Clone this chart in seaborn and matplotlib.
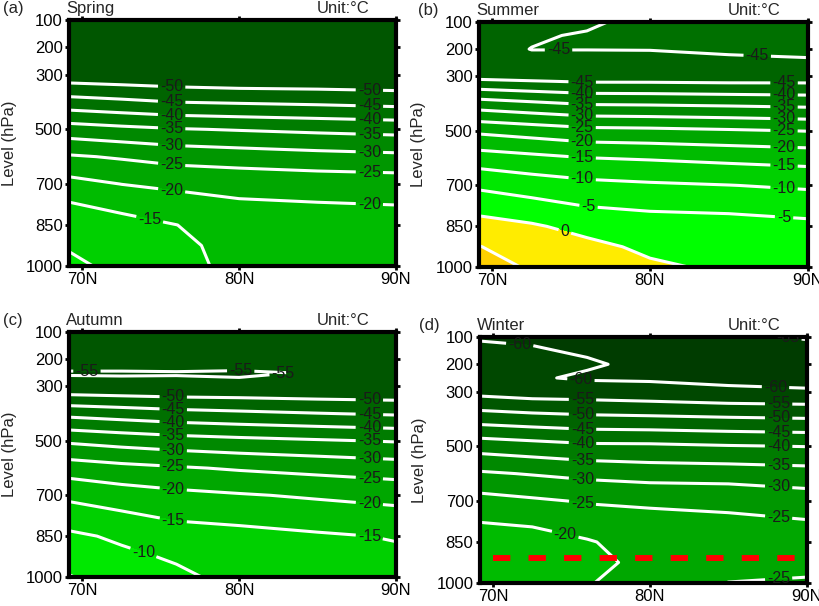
import numpy as np
import matplotlib
matplotlib.use("Agg")
import matplotlib.pyplot as plt
import seaborn as sns

# pressure levels (hPa) and latitudes of the temperature grid
levels_hpa = [100, 150, 200, 250, 300, 400, 500, 600, 700, 850, 925, 1000]
lats = [69, 72.5, 76, 80, 85, 90]

# seasonal mean air temperature (deg C), one row per level, one column per latitude
spring_t = [
    [-52.5, -52.8, -53.0, -53.0, -52.8, -52.5],
    [-53.0, -53.2, -53.3, -53.3, -53.2, -53.0],
    [-53.2, -53.4, -53.5, -53.5, -53.5, -53.3],
    [-53.3, -53.6, -53.8, -53.8, -53.8, -53.6],
    [-53.0, -53.5, -54.0, -54.5, -54.5, -54.6],
    [-43.0, -44.0, -45.05, -45.5, -46.0, -46.7],
    [-32.7, -33.8, -34.7, -35.3, -36.0, -36.6],
    [-24.4, -25.5, -26.8, -27.5, -28.3, -28.9],
    [-18.3, -20.05, -21.0, -21.5, -22.0, -22.3],
    [-10.6, -13.0, -14.95, -17.3, -17.5, -17.8],
    [-10.4, -12.5, -13.8, -16.8, -17.2, -17.6],
    [-8.6, -11.5, -13.5, -16.3, -17.0, -17.3],
]
summer_t = [
    [-47.5, -47.0, -46.0, -43.0, -42.5, -42.0],
    [-47.5, -45.6, -44.5, -44.0, -43.5, -43.0],
    [-47.0, -44.9, -44.9, -44.8, -44.3, -44.0],
    [-47.0, -46.5, -46.5, -47.0, -46.0, -45.6],
    [-46.5, -47.1, -47.6, -47.6, -47.8, -47.7],
    [-32.7, -34.1, -35.4, -35.6, -36.0, -36.5],
    [-20.9, -22.2, -23.5, -23.8, -24.4, -25.1],
    [-12.5, -13.7, -14.9, -15.4, -16.2, -16.9],
    [-5.8, -7.4, -8.6, -9.3, -9.9, -10.7],
    [2.1, 0.6, -1.6, -2.5, -2.8, -3.7],
    [5.3, 2.4, 1.3, -1.0, -1.8, -2.5],
    [7.0, 4.5, 2.8, 0.8, -0.8, -2.0],
]
autumn_t = [
    [-52.5, -52.5, -52.5, -52.5, -52.5, -52.5],
    [-52.8, -52.8, -52.8, -52.8, -52.8, -52.8],
    [-53.0, -53.0, -53.0, -53.0, -53.0, -53.0],
    [-55.3, -55.3, -55.2, -55.4, -54.8, -53.8],
    [-53.7, -54.0, -54.2, -54.2, -54.5, -54.6],
    [-41.3, -42.3, -43.3, -44.0, -44.8, -45.5],
    [-30.7, -31.9, -32.9, -33.7, -34.5, -35.3],
    [-22.3, -23.6, -24.5, -25.5, -26.5, -27.5],
    [-16.0, -17.6, -18.75, -19.6, -20.6, -21.6],
    [-9.0, -10.8, -12.8, -13.4, -14.4, -15.3],
    [-7.0, -9.0, -10.6, -12.3, -13.2, -14.2],
    [-4.6, -7.5, -9.0, -11.5, -12.3, -13.4],
]
winter_t = [
    [-60.2, -60.5, -61.0, -62.0, -64.3, -65.3],
    [-59.5, -59.7, -60.4, -61.5, -62.5, -63.8],
    [-59.0, -59.0, -59.6, -60.8, -61.5, -62.5],
    [-58.5, -59.6, -60.5, -60.6, -61.0, -61.5],
    [-56.5, -57.5, -57.7, -58.3, -59.2, -59.5],
    [-47.0, -47.9, -48.6, -48.9, -49.4, -49.8],
    [-37.0, -38.0, -39.0, -39.1, -39.7, -40.1],
    [-29.3, -30.3, -31.3, -32.2, -32.4, -33.0],
    [-23.2, -24.3, -25.4, -25.6, -26.0, -27.5],
    [-17.0, -17.5, -19.6, -22.2, -22.5, -22.0],
    [-16.5, -17.0, -19.0, -21.0, -23.0, -23.5],
    [-17.0, -17.5, -19.8, -21.5, -25.1, -25.6],
]

seasons = ["Spring", "Summer", "Autumn", "Winter"]
panel_tags = ["(a)", "(b)", "(c)", "(d)"]

contour_levels = list(range(-70, 15, 5))
band_colors = ["#003200", "#003c00", "#004800", "#005600", "#006400",
               "#007000", "#007c00", "#008900", "#009700", "#00a700",
               "#00bb00", "#00d000", "#00e800", "#00ff00", "#ffec00",
               "#ffd000"]

y_ticks = [100, 200, 300, 500, 700, 850, 1000]
x_ticks = [70, 80, 90]
x_tick_labels = ["70N", "80N", "90N"]

# isotherm labels: (value, latitude, rough level)
spring_labels = [(-50, 75.7, 349), (-45, 75.7, 400), (-40, 75.7, 448), (-35, 75.7, 496),
                 (-30, 75.7, 558), (-25, 75.7, 623), (-20, 75.7, 719), (-15, 74.3, 825),
                 (-50, 88.3, 362), (-45, 88.3, 413), (-40, 88.3, 461), (-35, 88.3, 515),
                 (-30, 88.3, 580), (-25, 88.3, 655), (-20, 88.3, 765)]
summer_labels = [(-45, 74.2, 196), (-45, 86.8, 230),
                 (-45, 75.7, 320), (-40, 75.7, 360), (-35, 75.7, 401), (-30, 75.7, 438),
                 (-25, 75.7, 482), (-20, 75.7, 533), (-15, 75.7, 594), (-10, 75.7, 668),
                 (-5, 76.1, 766), (0, 74.6, 861),
                 (-45, 88.5, 325), (-40, 88.5, 371), (-35, 88.5, 411), (-30, 88.5, 449),
                 (-25, 88.5, 498), (-20, 88.5, 553), (-15, 88.5, 625), (-10, 88.5, 708),
                 (-5, 88.5, 818)]
autumn_labels = [(-55, 70.3, 250), (-55, 80.1, 250), (-55, 82.8, 255),
                 (-50, 75.8, 344), (-45, 75.8, 384), (-40, 75.8, 430), (-35, 75.8, 478),
                 (-30, 75.8, 531), (-25, 75.8, 592), (-20, 75.8, 674), (-15, 75.8, 778),
                 (-10, 73.9, 888),
                 (-50, 88.3, 355), (-45, 88.3, 402), (-40, 88.3, 448), (-35, 88.3, 500),
                 (-30, 88.3, 560), (-25, 88.3, 632), (-20, 88.3, 723), (-15, 88.3, 850)]
winter_labels = [(-60, 71.7, 129), (-60, 75.6, 257), (-65, 88.8, 105), (-60, 88.0, 287),
                 (-55, 75.7, 331), (-50, 75.7, 385), (-45, 75.7, 434), (-40, 75.7, 487),
                 (-35, 75.7, 541), (-30, 75.7, 617), (-25, 75.7, 703), (-20, 74.6, 818),
                 (-55, 88.2, 350), (-50, 88.2, 396), (-45, 88.2, 448), (-40, 88.2, 500),
                 (-35, 88.2, 565), (-30, 88.2, 645), (-25, 88.2, 748), (-25, 88.2, 987)]

# 850-1000 hPa marker line in the winter panel
red_lats = [70, 90]
red_level = [910, 910]

sns.set_theme(style="ticks")
plt.rcParams['font.family'] = ['Liberation Sans', 'DejaVu Sans']
plt.rcParams['contour.negative_linestyle'] = 'solid'


def spot(cs, value, lat, near):
    # point where the isotherm crosses the given latitude, closest to 'near'
    i = int(np.argmin(np.abs(np.asarray(cs.levels) - value)))
    best = None
    for seg in cs.allsegs[i]:
        for (x0, y0), (x1, y1) in zip(seg[:-1], seg[1:]):
            if x0 != x1 and (x0 - lat) * (x1 - lat) <= 0:
                y = y0 + (y1 - y0) * (lat - x0) / (x1 - x0)
                if best is None or abs(y - near) < abs(best - near):
                    best = y
    return (lat, near if best is None else best)


fig = plt.figure(figsize=(8.2, 6.06), dpi=100)
boxes = [[0.084, 0.561, 0.399, 0.406], [0.584, 0.559, 0.401, 0.405],
         [0.084, 0.048, 0.399, 0.404], [0.585, 0.038, 0.399, 0.406]]
tag_x = [-0.202, -0.185, -0.202, -0.187]
all_t = [spring_t, summer_t, autumn_t, winter_t]
all_labels = [spring_labels, summer_labels, autumn_labels, winter_labels]

for k in range(4):
    ax = fig.add_axes(boxes[k])
    t = np.array(all_t[k])
    ax.contourf(lats, levels_hpa, t, levels=contour_levels, colors=band_colors)
    cs = ax.contour(lats, levels_hpa, t, levels=contour_levels, colors='white',
                    linewidths=2.2, linestyles='solid')
    spots = [spot(cs, v, la, p) for v, la, p in all_labels[k]]
    txts = ax.clabel(cs, manual=spots, inline=True, inline_spacing=2, fmt='%d',
                     fontsize=11.5, colors='#1a1a1a')
    for tx in txts:
        tx.set_rotation(0)

    if k == 3:
        sns.lineplot(x=red_lats, y=red_level, ax=ax, color='#ff0000', linewidth=4.3,
                     linestyle=(0, (2.9, 3.05)), legend=False, zorder=5)

    ax.set_xlim(69.15, 90)
    ax.set_ylim(1000, 100)
    ax.set_yticks(y_ticks)
    ax.set_yticklabels([str(v) for v in y_ticks])
    ax.set_xticks(x_ticks)
    ax.set_xticklabels(x_tick_labels)
    ax.tick_params(direction='out', length=3, width=2, top=True, right=True,
                   labelsize=12, pad=1.5, colors='black')
    for sp in ax.spines.values():
        sp.set_linewidth(3)
        sp.set_color('black')
    ax.set_xlabel('')
    ax.set_ylabel('Level (hPa)', fontsize=12)
    ax.yaxis.set_label_coords(-0.16, 0.5)

    ax.text(-0.008, 1.028, seasons[k], transform=ax.transAxes, fontsize=12,
            ha='left', va='baseline')
    ax.text(0.918, 1.028, 'Unit:°C', transform=ax.transAxes, fontsize=12,
            ha='right', va='baseline')
    ax.text(tag_x[k], 1.028, panel_tags[k], transform=ax.transAxes, fontsize=12,
            ha='left', va='baseline')

fig.savefig('out.png', dpi=100)
